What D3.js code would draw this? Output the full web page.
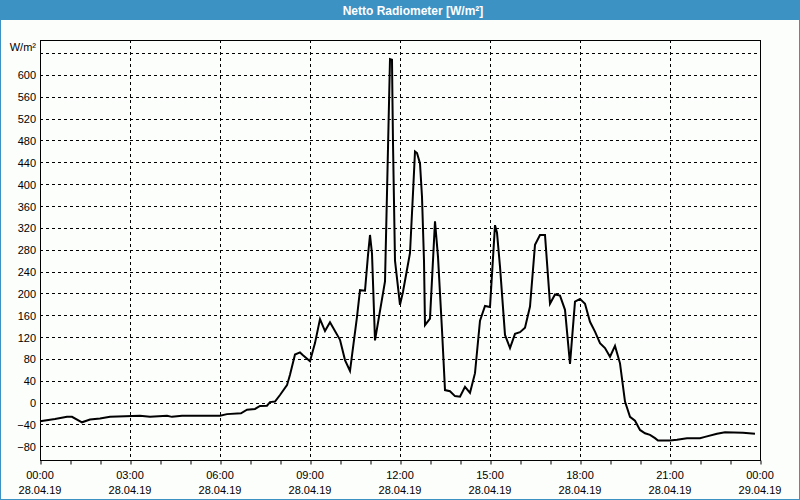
<!DOCTYPE html>
<html><head><meta charset="utf-8">
<script src="https://cdn.jsdelivr.net/npm/d3@7"></script>
<style>body{margin:0;padding:0;background:#fff}svg{display:block}</style>
</head><body>
<script>
const title = "Netto Radiometer [W/m²]";
const unitLabel = "W/m²";
const times = ["00:00","00:30","00:54","01:04","01:24","01:40","02:00","02:20","03:20","03:40","04:14","04:24","04:44","06:00","06:14","06:42","06:54","07:10","07:20","07:34","07:40","07:50","08:00","08:14","08:20","08:30","08:40","08:46","09:00","09:10","09:20","09:30","09:40","10:00","10:10","10:20","10:34","10:40","10:50","10:56","11:00","11:04","11:10","11:30","11:34","11:36","11:38","11:40","11:44","11:45","11:46","11:50","12:00","12:06","12:20","12:26","12:30","12:34","12:40","12:44","12:48","12:50","13:00","13:10","13:16","13:24","13:30","13:40","13:50","14:00","14:10","14:20","14:30","14:40","14:50","15:00","15:10","15:14","15:20","15:30","15:40","15:50","16:00","16:10","16:20","16:30","16:40","16:50","17:00","17:10","17:20","17:30","17:40","17:50","18:00","18:10","18:20","18:30","18:40","18:50","19:00","19:10","19:20","19:30","19:40","19:50","20:00","20:10","20:20","20:30","20:36","21:00","21:14","21:34","22:00","22:10","22:34","22:50","23:26","23:50"];
const values = [-34,-30,-26,-26,-36,-31,-29,-26,-24,-26,-24,-26,-24,-24,-21,-19.5,-13,-11.5,-6,-5.5,1,2,14,32,51,88,92,87,76,109,153,131,147,115,78,58,157,206,205,270,307,273,114,222,384,466,548,629,628,548,475,260,179,203,274,384,460,457,438,377,260,142,154,332,267,133,23,21,12,11,29,18,54,150,177,175,325,311,249,124,100,126,129,137,176,289,307,307,181,198,196,170,71,185,190,181,148,130,109,100,84,104,72,2,-26,-33,-50,-56,-59,-65,-69.5,-69.5,-68,-65,-65,-62.6,-57,-54,-55,-57];
const yTicks = [-80,-40,0,40,80,120,160,200,240,280,320,360,400,440,480,520,560,600];
const yGrid = [-80,-40,0,40,80,120,160,200,240,280,320,360,400,440,480,520,560,600,640];
const xLabelTimes = ["00:00","03:00","06:00","09:00","12:00","15:00","18:00","21:00","00:00"];
const xLabelDates = ["28.04.19","28.04.19","28.04.19","28.04.19","28.04.19","28.04.19","28.04.19","28.04.19","29.04.19"];

const W = 800, H = 500;
const L = 40, R = 760, T = 40, B = 460;
const blue = "#3d92c4";
const font = "'Liberation Sans', Arial, sans-serif";

const svg = d3.select("body").append("svg").attr("width", W).attr("height", H);
svg.append("rect").attr("width", W).attr("height", H).attr("fill", "#fcfefc");
svg.append("rect").attr("x", 0.5).attr("y", 0.5).attr("width", W - 1).attr("height", H - 1)
  .attr("fill", "none").attr("stroke", blue).attr("stroke-width", 1);
svg.append("rect").attr("x", 0).attr("y", 0).attr("width", W).attr("height", 20).attr("fill", blue);
svg.append("text").attr("x", 413).attr("y", 14.5).attr("text-anchor", "middle")
  .attr("fill", "#fff").attr("font-family", font).attr("font-weight", "bold").attr("font-size", 12).text(title);

const toH = s => { const [h, m] = s.split(":").map(Number); return h + m / 60; };
const x = d3.scaleLinear().domain([0, 24]).range([L, R]);
const y = d3.scaleLinear().domain([-105, 664]).range([B, T]);

const g = svg.append("g");
// horizontal grid
g.selectAll(".hg").data(yGrid).join("line")
  .attr("x1", L).attr("x2", R)
  .attr("y1", d => Math.round(y(d)) + 0.5).attr("y2", d => Math.round(y(d)) + 0.5)
  .attr("stroke", "#000").attr("stroke-dasharray", "3,3");
// vertical grid
const vg = d3.range(3, 24, 3);
g.selectAll(".vg").data(vg).join("line")
  .attr("x1", d => Math.round(x(d)) + 0.5).attr("x2", d => Math.round(x(d)) + 0.5)
  .attr("y1", T).attr("y2", B)
  .attr("stroke", "#000").attr("stroke-dasharray", "3,3");

// x axis ticks
const xAxis = d3.axisBottom(x).tickValues(d3.range(0, 25, 1)).tickSize(4).tickFormat("");
const xa = svg.append("g").attr("transform", `translate(0.5,${B + 0.5})`).call(xAxis);
xa.select(".domain").remove();
xa.selectAll(".tick line").attr("stroke", "#000");

// y labels
const ya = svg.append("g").attr("transform", `translate(${L},0.5)`)
  .call(d3.axisLeft(y).tickValues(yTicks).tickSize(0).tickPadding(4));
ya.select(".domain").remove();
ya.selectAll("text").attr("font-family", font).attr("font-size", 11).attr("fill", "#000");
svg.append("text").attr("x", 36).attr("y", 51).attr("text-anchor", "end")
  .attr("font-family", font).attr("font-size", 11).attr("fill", "#000").text(unitLabel);

// x labels
const xl = svg.append("g").attr("font-family", font).attr("font-size", 11).attr("fill", "#000").attr("text-anchor", "middle");
xLabelTimes.forEach((t, i) => {
  const px = x(i * 3);
  xl.append("text").attr("x", px).attr("y", 479).text(t);
  xl.append("text").attr("x", px).attr("y", 494).text(xLabelDates[i]);
});

// frame
svg.append("rect").attr("x", L + 0.5).attr("y", T + 0.5).attr("width", R - L).attr("height", B - T)
  .attr("fill", "none").attr("stroke", "#000").attr("stroke-width", 1);

// line
const data = times.map((t, i) => ({ h: toH(t), v: values[i] }));
svg.append("path").datum(data)
  .attr("d", d3.line().x(d => x(d.h)).y(d => y(d.v)))
  .attr("fill", "none").attr("stroke", "#000").attr("stroke-width", 2).attr("stroke-linejoin", "miter");
</script>
</body></html>
